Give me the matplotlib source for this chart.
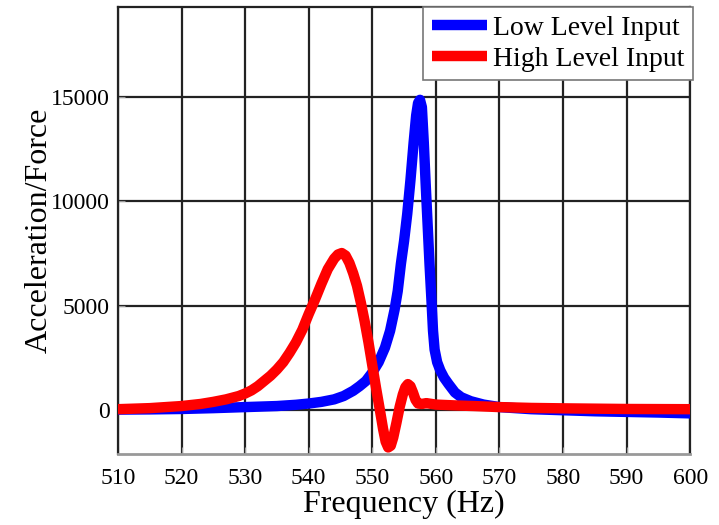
import matplotlib
matplotlib.use('Agg')
import matplotlib.pyplot as plt

# Low level input (blue)
f_low = [510, 515, 520, 525, 530, 535, 538, 540, 542, 544, 545.5, 547, 548, 549,
         550, 551, 552, 552.8, 553.5, 554, 554.5, 555, 555.5, 556, 556.5, 556.9,
         557.2, 557.5, 557.8, 558.1, 558.4, 558.7, 559, 559.3, 559.55, 559.8,
         560.2, 560.7, 561.3, 562, 563, 564, 565.5, 567.5, 570, 575, 580, 585,
         590, 595, 600]
a_low = [30, 40, 60, 100, 150, 200, 260, 320, 400, 520, 680, 930, 1150, 1400,
         1800, 2300, 3000, 3800, 4800, 5700, 7000, 8100, 9400, 11000, 12800, 14100,
         14700, 14850, 14500, 12800, 10800, 8900, 7000, 5300, 3800, 2900,
         2300, 1900, 1550, 1250, 850, 620, 430, 270, 150, 50, 0, -50,
         -80, -110, -150]

# High level input (red)
f_high = [510, 515, 520, 523, 525, 527, 529, 530, 531, 532, 533, 534, 535, 536,
          537, 538, 539, 540, 541, 542, 543, 544, 544.6, 545.2, 545.8, 546.4, 547,
          547.6, 548.2, 548.8, 549.4, 550, 550.6, 551.2, 551.7, 552.1, 552.5,
          552.9, 553.3, 553.8, 554.3, 554.8, 555.2, 555.6, 556, 556.4, 556.8,
          557.2, 557.8, 558.5, 560, 563, 566, 570, 575, 580, 590, 600]
a_high = [50, 100, 200, 300, 400, 520, 680, 800, 950, 1150, 1400, 1650, 1950, 2300,
          2750, 3250, 3850, 4600, 5300, 6050, 6750, 7250, 7450, 7520, 7400, 7050, 6550,
          5950, 5150, 4250, 3250, 2150, 1050, 0, -900, -1500, -1780,
          -1700, -1300, -600, 150, 750, 1100, 1250, 1150, 850, 500,
          320, 300, 340, 270, 230, 200, 150, 110, 90, 60, 50]

xticks = [510, 520, 530, 540, 550, 560, 570, 580, 590, 600]
yticks = [0, 5000, 10000, 15000]

plt.rcParams['font.family'] = ['Liberation Serif', 'DejaVu Serif']

fig = plt.figure(figsize=(7.19, 5.25), dpi=100)
ax = fig.add_axes([0.164, 0.135, 0.796, 0.852])

ax.plot(f_low, a_low, color='#0000ff', lw=7.5, solid_joinstyle='round',
        solid_capstyle='butt', label='Low Level Input', zorder=3)
ax.plot(f_high, a_high, color='#ff0000', lw=7.5, solid_joinstyle='round',
        solid_capstyle='butt', label='High Level Input', zorder=4)

ax.set_xlim(510, 600)
ax.set_ylim(-2100, 19300)
ax.set_xticks(xticks)
ax.set_yticks(yticks)
ax.grid(True, color='#222222', lw=1.6)
ax.set_axisbelow(True)
ax.tick_params(axis='both', direction='in', length=5, color='#999999',
               labelsize=17)
ax.tick_params(axis='x', pad=10)
ax.tick_params(axis='y', pad=6)

for side in ['top', 'right', 'left']:
    ax.spines[side].set_color('#222222')
    ax.spines[side].set_linewidth(1.6)
ax.spines['bottom'].set_color('#999999')
ax.spines['bottom'].set_linewidth(2)

ax.set_xlabel('Frequency (Hz)', fontsize=23, labelpad=1)
ax.set_ylabel('Acceleration/Force', fontsize=23, labelpad=-2)

leg = ax.legend(loc='upper right', bbox_to_anchor=(1.004, 1.0), fontsize=20,
                frameon=True, fancybox=False, framealpha=1, edgecolor='#777777',
                handlelength=2.0, handletextpad=0.2, borderpad=0.3,
                labelspacing=0.2, borderaxespad=0)
leg.get_frame().set_linewidth(1.2)

fig.savefig('out.png', dpi=100, facecolor='white')
